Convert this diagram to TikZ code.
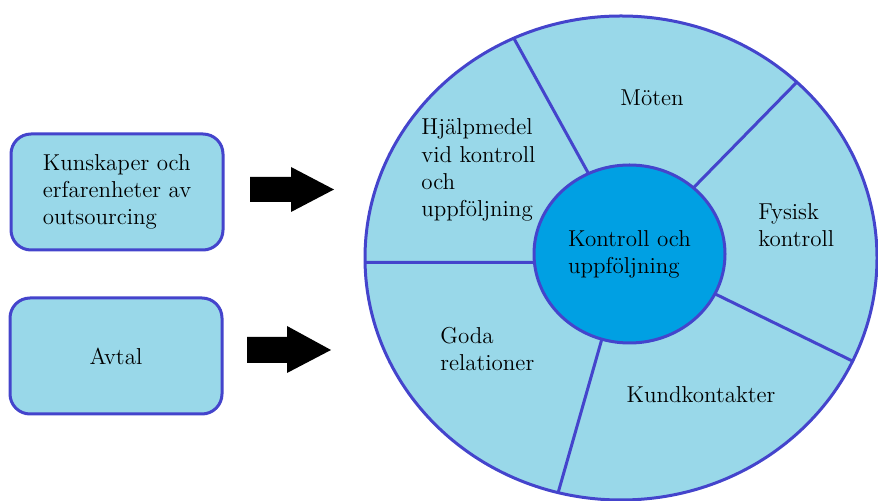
\documentclass[tikz,border=0pt]{standalone}
\usetikzlibrary{shapes.geometric}
\definecolor{paleblue}{RGB}{153,216,233}
\definecolor{hubblue}{RGB}{0,160,227}
\definecolor{rimblue}{RGB}{68,68,204}
\begin{document}
\begin{tikzpicture}[x=0.5pt,y=-0.5pt,font=\fontsize{11.5}{13.6}\selectfont]

    \useasboundingbox (0,0) rectangle (878,501);
    \tikzset{boxstyle/.style={draw=rimblue,fill=paleblue,line width=1.5pt,rounded corners=10pt,minimum width=106pt,minimum height=58pt,align=left}}
    \tikzset{ringstyle/.style={draw=rimblue,line width=1.5pt,shape=ellipse,inner sep=0pt,outer sep=0pt}}
    \tikzset{labelstyle/.style={align=left,inner sep=0pt}}

    \node[boxstyle] (kunskap) at (117,192) {Kunskaper och\\erfarenheter av\\outsourcing};
    \node[boxstyle] (avtal) at (116,356) {Avtal};

    \fill (250,177) -- (291,177) -- (291,167) -- (334,189.5) -- (291,212) -- (291,202) -- (250,202) -- cycle;
    \fill (247,337) -- (287,337) -- (287,326) -- (331,350) -- (287,373) -- (287,363) -- (247,363) -- cycle;

    \node[ringstyle,fill=paleblue,minimum width=256pt,minimum height=242pt] (wheel) at (621,258) {};
    \node[ringstyle,fill=hubblue,minimum width=95.5pt,minimum height=89pt,align=left] (hub) at (629.5,254) {Kontroll och\\uppföljning};

    \begin{scope}[every path/.style={draw=rimblue,line width=1.5pt}]
        \draw (hub.117) -- (wheel.116);
        \draw (hub.46) -- (wheel.45);
        \draw (hub.-25) -- (wheel.-24);
        \draw (hub.-108) -- (wheel.-105);
        \draw (hub.185) -- (wheel.181);
    \end{scope}

    \node (moten) at (652,98) {Möten};
    \node[labelstyle,anchor=west] (hjalp) at (421,170) {Hjälpmedel\\vid kontroll\\och\\uppföljning};
    \node[labelstyle,anchor=west] (fysisk) at (758,225) {Fysisk\\kontroll};
    \node[labelstyle,anchor=west] (goda) at (440,349) {Goda\\relationer};
    \node (kund) at (701,395) {Kundkontakter};
\end{tikzpicture}
\end{document}
